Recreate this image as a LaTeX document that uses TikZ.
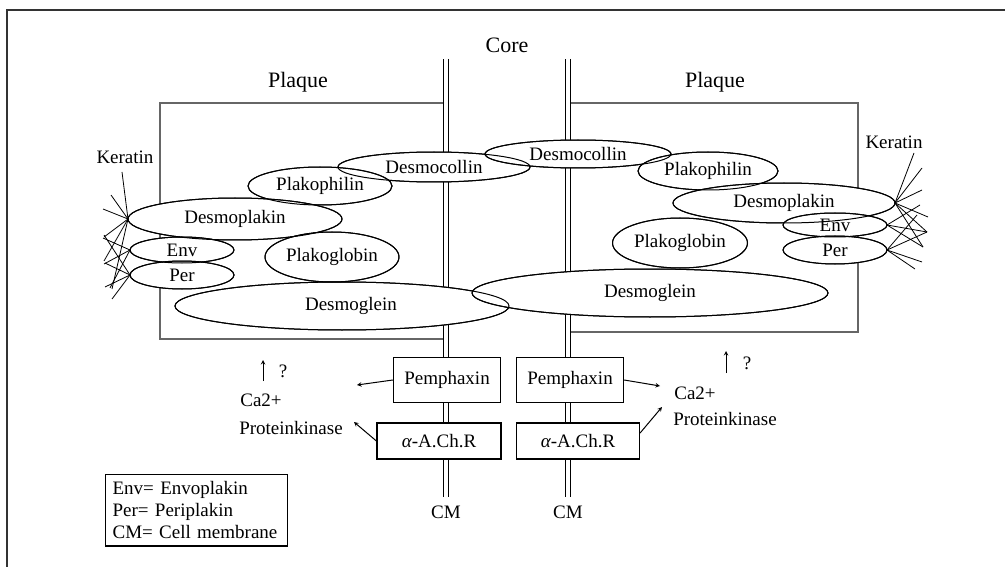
\documentclass[tikz,border=0pt]{standalone}
\usepackage{fontspec}
\setmainfont{Liberation Serif}
\usetikzlibrary{shapes.geometric,calc,backgrounds}

\tikzset{
  prot/.style={shape=ellipse, draw=black, fill=white, inner sep=0pt, outer sep=0pt, line width=1pt},
  pbox/.style={rectangle, draw, fill=white, line width=1.2pt, inner sep=0pt},
  membrane/.style={double, double distance=4pt, line width=1pt},
  plaque/.style={draw=black!60, line width=1.6pt},
  keratin/.style={line width=0.8pt},
  lbl/.style={inner sep=0pt},
}

\begin{document}
\begin{tikzpicture}[x=1pt,y=-1pt,font=\fontsize{19}{22}\selectfont]
  \useasboundingbox (0,0) rectangle (1005,567);
  % outer frame (cut by the page)
  \draw[line width=1.6pt, black!80] (7,10) rectangle (1030,600);

  % titles
  \node[lbl, font=\fontsize{22}{24}\selectfont] (core) at (507,45) {Core};
  \node[lbl, font=\fontsize{22}{24}\selectfont] (plqL) at (298,82) {Plaque};
  \node[lbl, font=\fontsize{22}{24}\selectfont] (plqR) at (715,82) {Plaque};

  % proteins
  \node[prot, minimum width=192pt, minimum height=30pt] (dcolL) at (434,167) {Desmocollin};
  \node[prot, minimum width=186pt, minimum height=28pt] (dcolR) at (578,154) {Desmocollin};
  \node[prot, minimum width=144pt, minimum height=38pt] (pphL) at (320,186) {Plakophilin};
  \node[prot, minimum width=140pt, minimum height=38pt] (pphR) at (708,171) {Plakophilin};
  \node[prot, minimum width=214pt, minimum height=42pt] (dplkL) at (235,219) {Desmoplakin};
  \node[prot, minimum width=222pt, minimum height=40pt] (dplkR) at (784,203) {Desmoplakin};
  \node[prot, minimum width=104pt, minimum height=26pt] (envL) at (182,250) {Env};
  \node[prot, minimum width=104pt, minimum height=28pt] (perL) at (182,275) {Per};
  \node[prot, minimum width=104pt, minimum height=24pt] (envR) at (835,225) {Env};
  \node[prot, minimum width=104pt, minimum height=28pt] (perR) at (835,250) {Per};
  \node[prot, minimum width=134pt, minimum height=50pt] (pglL) at (332,257) {Plakoglobin};
  \node[prot, minimum width=135pt, minimum height=50pt] (pglR) at (680,243) {Plakoglobin};
  \node[prot, minimum width=334pt, minimum height=48pt] (dgL) at (342,306) {\hspace*{18pt}Desmoglein};
  \node[prot, minimum width=356pt, minimum height=48pt] (dgR) at (650,293) {Desmoglein};
  % outlines again, so that overlaps show both
  \foreach \e in {dcolL,dcolR,pphL,pphR,dplkL,dplkR,envL,perL,envR,perR,pglL,pglR,dgL,dgR}
    \draw[line width=1pt] let \p1=(\e.east), \p2=(\e.north), \p3=(\e.center) in
      (\p3) ellipse ({\x1-\x3} and {\y2-\y3});

  % receptors
  \node[pbox, minimum width=107pt, minimum height=45pt] (pemL) at (447,380) {Pemphaxin};
  \node[pbox, minimum width=124pt, minimum height=36pt] (achL) at (439,441) {{\itshape α}-A.Ch.R};
  \node[pbox, minimum width=107pt, minimum height=45pt] (pemR) at (570,380) {Pemphaxin};
  \node[pbox, minimum width=123pt, minimum height=36pt] (achR) at (578,441) {{\itshape α}-A.Ch.R};

  % cell membranes
  \node[lbl] (cmL) at (446,512) {CM};
  \node[lbl] (cmR) at (568,512) {CM};
  \coordinate (memLtop) at (446,59);
  \coordinate (memRtop) at (568,59);

  \begin{scope}[on background layer]
    % plaques
    \draw[plaque] (443,103) -- (160,103) -- (160,339) -- (443,339);
    \draw[plaque] (571,103) -- (858,103) -- (858,332) -- (571,332);
    \draw[membrane] (memLtop) -- ([yshift=8pt]cmL.north);
    \draw[membrane] (memRtop) -- ([yshift=8pt]cmR.north);
  \end{scope}

  % keratin
  \node[lbl] (kerL) at (125,157) {Keratin};
  \node[lbl] (kerR) at (894,142) {Keratin};
  \foreach \dx/\dy in {-6/-47, -17/-24, -25/-10, -24/18, -24/42, -16/70}
    \draw[keratin] (dplkL.west) -- ++(\dx,\dy);
  \foreach \dx/\dy in {-27/-12, -26/14, -20/38}
    \draw[keratin] (envL.west) -- ++(\dx,\dy);
  \foreach \dx/\dy in {-26/-40, -25/-12, -25/12, -18/24}
    \draw[keratin] (perL.west) -- ++(\dx,\dy);
  \foreach \dx/\dy in {19/-50, 27/-35, 27/-13, 33/14, 32/29, 28/44}
    \draw[keratin] (dplkR.east) -- ++(\dx,\dy);
  \foreach \dx/\dy in {33/-20, 40/7, 36/22}
    \draw[keratin] (envR.east) -- ++(\dx,\dy);
  \foreach \dx/\dy in {35/12, 28/19, 40/-18, 30/-35}
    \draw[keratin] (perR.east) -- ++(\dx,\dy);

  % signals
  \node[lbl] (caL) at (261,400) {Ca2+};
  \node[lbl] (pkL) at (291,428) {Proteinkinase};
  \node[lbl] (caR) at (695,393) {Ca2+};
  \node[lbl] (pkR) at (725,419) {Proteinkinase};
  \node[lbl] (qL) at (283,371) {?};
  \node[lbl] (qR) at (747,363) {?};
  \coordinate (upL) at (263,381);
  \coordinate (upR) at (726,373);
  \draw[-stealth, line width=1pt] (upL) -- ++(0,-21);
  \draw[-stealth, line width=1pt] (upR) -- ++(0,-22);

  \coordinate (tipPemL) at (357,385);
  \coordinate (tipAchL) at (354,422);
  \coordinate (tipPemR) at (660,386);
  \coordinate (tipAchR) at (662,407);
  \draw[-stealth, line width=1pt] (pemL.west) -- (tipPemL);
  \draw[-stealth, line width=1pt] (achL.west) -- (tipAchL);
  \draw[-stealth, line width=1pt] (pemR.east) -- (tipPemR);
  \draw[-stealth, line width=1pt] ([yshift=8pt]achR.east) -- (tipAchR);

  % legend
  \node[draw, line width=1.2pt, anchor=north west, align=left, text width=168pt,
        inner sep=7pt] (legend) at (105,474)
    {Env= Envoplakin\\Per= Periplakin\\CM= Cell membrane};
\end{tikzpicture}
\end{document}
